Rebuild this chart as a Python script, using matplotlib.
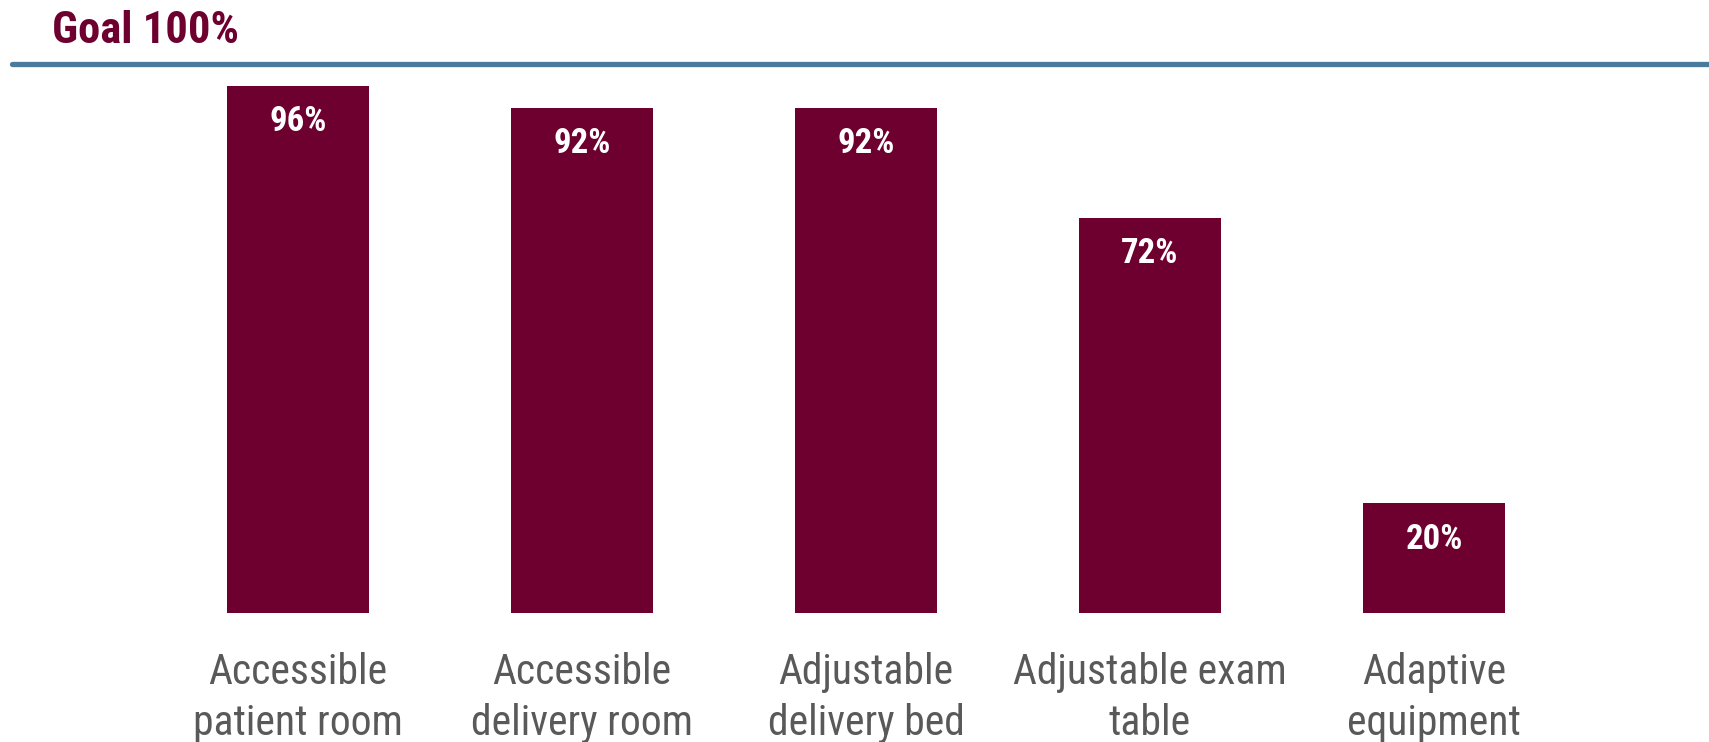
import matplotlib.pyplot as plt
from matplotlib import font_manager

categories = ['Accessible\npatient room', 'Accessible\ndelivery room', 'Adjustable\ndelivery bed',
              'Adjustable exam\ntable', 'Adaptive\nequipment']
values = [96, 92, 92, 72, 20]
goal = 100

names = set(f.name for f in font_manager.fontManager.ttflist)
narrow = 'Liberation Sans Narrow' if 'Liberation Sans Narrow' in names else 'Roboto Condensed'
if narrow not in names:
    narrow = 'Liberation Sans'
plt.rcParams['font.family'] = [narrow, 'DejaVu Sans']

bar_color = '#6e0030'
fig = plt.figure(figsize=(17.09, 7.42), dpi=100)
ax = fig.add_axes([0, 129 / 742, 1, 549 / 742])

x = list(range(len(values)))
ax.bar(x, values, width=0.5, color=bar_color)
ax.set_xlim(-298 / 284, (1709 - 298) / 284)
ax.set_ylim(0, 100)

for i, v in enumerate(values):
    ax.annotate(f'{v}%', (i, v), xytext=(0, -14), textcoords='offset points',
                ha='center', va='top', color='white', fontsize=25, fontweight='bold')

ax.axhline(goal, xmin=12 / 1709, xmax=1, color='#4a7b9c', linewidth=3.8,
           solid_capstyle='round', clip_on=False)

ax.set_xticks(x)
ax.set_xticklabels(categories, fontsize=30, color='#595959', linespacing=1.31)
ax.tick_params(axis='x', length=0, pad=28)
ax.set_yticks([])
for s in ax.spines.values():
    s.set_visible(False)

fig.text(52 / 1709, 1 - 43 / 742, 'Goal 100%', fontsize=32, fontweight='bold',
         color=bar_color, va='baseline', ha='left')

fig.savefig('out.png', dpi=100)
